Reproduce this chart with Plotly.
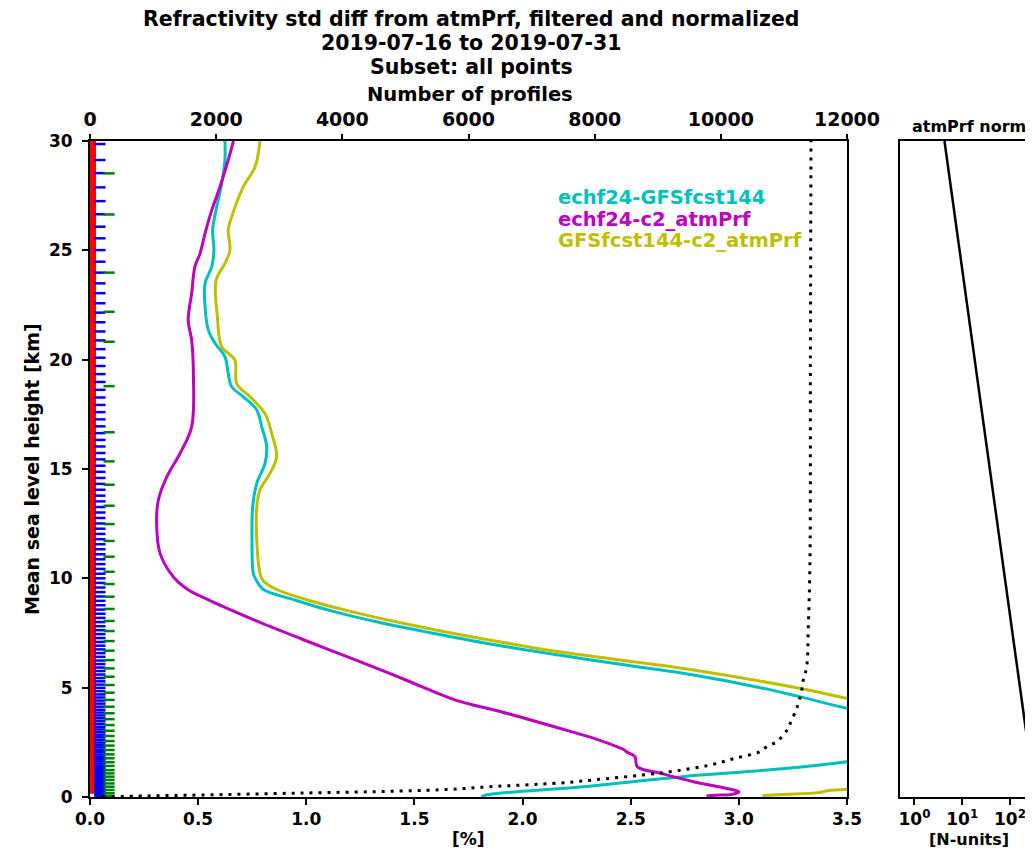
import plotly.graph_objects as go

# ---------------- data ----------------
# echf24-GFSfcst144 (cyan): height [km] / std diff [%]
cyan_h = [0.0, 0.09, 0.47, 0.93, 1.23, 1.61, 2.2, 3.0, 3.6, 4.06, 4.59, 5.0, 5.58, 6.0, 6.49, 7.0, 7.5,
          8.0, 8.5, 9.0, 9.5, 9.9, 10.23, 11.75, 13.27, 14.34, 15.26, 16.02, 16.93, 17.70, 18.30, 18.76,
          19.37, 20.13, 20.75, 21.35, 22.42, 23.49, 24.25, 25.01, 25.93, 26.99, 28.06, 29.13, 30.0]
cyan_v = [1.81, 1.83, 2.28, 2.74, 3.13, 3.50, 3.85, 3.95, 3.75, 3.50, 3.28, 3.10, 2.79, 2.50, 2.17, 1.85, 1.58,
          1.33, 1.12, 0.95, 0.80, 0.77, 0.755, 0.749, 0.752, 0.771, 0.809, 0.817, 0.794, 0.771, 0.709, 0.655,
          0.639, 0.624, 0.578, 0.547, 0.532, 0.532, 0.563, 0.573, 0.567, 0.586, 0.609, 0.624, 0.624]

# echf24-c2_atmPrf (magenta)
mag_h = [0.05, 0.09, 0.12, 0.24, 0.40, 0.70, 1.08, 1.39, 1.84, 2.07, 2.15, 2.68, 3.06, 3.90, 4.43, 5.35,
         6.26, 7.18, 8.09, 9.0, 9.5, 10.07, 11.14, 12.51, 13.58, 14.64, 15.71, 16.93, 19.37, 20.90, 21.81, 23.03,
         24.25, 24.86, 25.78, 26.84, 27.91, 29.13, 30.0]
mag_v = [2.85, 2.91, 2.97, 3.00, 2.94, 2.79, 2.64, 2.53, 2.52, 2.48, 2.47, 2.33, 2.20, 1.90, 1.69, 1.46,
         1.23, 0.99, 0.76, 0.55, 0.45, 0.385, 0.324, 0.308, 0.316, 0.355, 0.416, 0.470, 0.478, 0.470, 0.454, 0.470,
         0.485, 0.509, 0.532, 0.563, 0.601, 0.639, 0.663]

# GFSfcst144-c2_atmPrf (olive)
olive_h = [0.07, 0.12, 0.20, 0.29, 0.35, 1.0, 2.0, 3.0, 4.0, 4.51, 4.97, 5.81, 6.64, 7.0, 7.5, 8.0, 8.5,
           9.0, 9.5, 9.9, 10.23, 11.75, 13.27, 14.04, 14.80, 15.56, 16.63, 17.54, 18.30, 18.92, 19.98, 20.59,
           21.96, 23.64, 24.40, 25.01, 25.93, 26.53, 27.91, 28.82, 30.0]
olive_v = [3.11, 3.20, 3.37, 3.41, 3.50, 3.9, 4.1, 4.0, 3.75, 3.50, 3.28, 2.79, 2.17, 1.95, 1.67, 1.42,
           1.20, 1.01, 0.86, 0.80, 0.786, 0.771, 0.771, 0.786, 0.832, 0.863, 0.840, 0.809, 0.740, 0.678, 0.670,
           0.609, 0.589, 0.583, 0.624, 0.647, 0.639, 0.655, 0.709, 0.763, 0.786]

# number of profiles (dotted, top axis)
prof_h = [0.0, 0.05, 0.09, 0.18, 0.27, 0.35, 0.47, 0.64, 0.78, 1.01, 1.20, 1.46, 1.77, 2.07, 2.30, 2.53, 3.06,
          3.37, 4.13, 4.89, 5.35, 5.96, 7.79, 10.8, 20.0, 30.0]
prof_n = [200, 900, 1744, 3329, 4914, 5707, 6341, 7450, 7978, 8771, 9300, 9828, 10225, 10621, 10727, 10886,
          11050, 11100, 11212, 11282, 11307, 11361, 11387, 11413, 11420, 11429]

# small-value level markers near zero
red_h = [0.15, 30.0]
red_v = [0.014, 0.014]
blue_h = [29.86, 29.13, 28.53, 27.88, 27.25, 26.65, 26.08, 25.55, 25.01, 24.48, 23.98, 23.49, 23.04, 22.58,
          22.15, 21.71, 21.29, 20.88, 20.48, 20.09, 19.71, 19.34, 18.98, 18.62, 18.27, 17.93, 17.60, 17.27,
          16.95, 16.64, 16.33, 16.03, 15.73, 15.44, 15.15, 14.87, 14.59, 14.32, 14.05, 13.78, 13.52, 13.26,
          13.01, 12.76, 12.51, 12.27, 12.03, 11.79, 11.56, 11.33, 11.10, 10.87, 10.65, 10.43, 10.21, 10.00,
          9.79, 9.58, 9.37, 9.17, 8.97, 8.77, 8.57, 8.38, 8.19, 8.00, 7.81, 7.63, 7.45, 7.27, 7.09, 6.92,
          6.75, 6.58, 6.41, 6.24, 6.08, 5.92, 5.76, 5.60, 5.44, 5.29, 5.14, 4.99, 4.84, 4.69, 4.55, 4.41,
          4.27, 4.13, 3.99, 3.86, 3.73, 3.60, 3.47, 3.34, 3.21, 3.09, 2.97, 2.85, 2.73, 2.61, 2.49, 2.38,
          2.27, 2.16, 2.05, 1.94, 1.83, 1.73, 1.63, 1.53, 1.43, 1.33, 1.23, 1.14, 1.05, 0.96, 0.87, 0.78,
          0.69, 0.61, 0.53, 0.45, 0.37, 0.29, 0.22, 0.15, 0.08, 0.02]
blue_value = 0.046
green_h = [28.52, 26.64, 23.98, 22.19, 20.82, 18.79, 16.68, 15.35, 14.28, 13.32, 12.48, 11.71, 10.99, 10.30,
           9.74, 9.16, 8.60, 8.05, 7.59, 7.13, 6.69, 6.26, 5.88, 5.50, 5.12, 4.77, 4.44, 4.13, 3.83, 3.56,
           3.29, 3.03, 2.79, 2.56, 2.35, 2.15, 1.95, 1.77, 1.59, 1.42, 1.23, 1.08, 0.93, 0.78, 0.62, 0.47,
           0.32, 0.17, 0.05]
green_value = 0.088

# atmPrf norm (right panel)
norm_h = [0, 5, 10, 15, 20, 25, 30]
norm_v = [337, 162, 78.5, 37.9, 18.3, 8.8, 4.25]

x_ticks = [0.0, 0.5, 1.0, 1.5, 2.0, 2.5, 3.0, 3.5]
top_ticks = [0, 2000, 4000, 6000, 8000, 10000, 12000]
y_ticks = [0, 5, 10, 15, 20, 25, 30]
norm_ticks = [1, 10, 100]

legend_names = ["echf24-GFSfcst144", "echf24-c2_atmPrf", "GFSfcst144-c2_atmPrf"]

# ---------------- styling ----------------
OFF = 8                     # default page body margin
W, H = 1033 - OFF, 857 - 2 * OFF
FONT = "DejaVu Sans"
C_CYAN = "#00bfbf"
C_MAG = "#bf00bf"
C_OLIVE = "#bfbf00"

def px_x(p):
    return (p - OFF) / W

def px_y(p):
    return 1 - (p - OFF) / H

main_x0, main_x1 = 90, 847
main_y_top, main_y_bot = 141, 797
right_x0 = 899.5

fig = go.Figure()

fig.add_trace(go.Scatter(x=red_v, y=red_h, mode="lines", line=dict(color="#ff0000", width=6),
                         showlegend=False, hoverinfo="skip"))
fig.add_trace(go.Scatter(x=[blue_value] * len(blue_h), y=blue_h, mode="markers",
                         marker=dict(symbol="line-ew", size=8, line=dict(color="#0000ff", width=2.5)),
                         showlegend=False, hoverinfo="skip"))
fig.add_trace(go.Scatter(x=[green_value] * len(green_h), y=green_h, mode="markers",
                         marker=dict(symbol="line-ew", size=8, line=dict(color="#008000", width=2.5)),
                         showlegend=False, hoverinfo="skip"))

fig.add_trace(go.Scatter(x=cyan_v, y=cyan_h, mode="lines", line=dict(color=C_CYAN, width=3),
                         name=legend_names[0], showlegend=False, line_shape="spline"))
fig.add_trace(go.Scatter(x=mag_v, y=mag_h, mode="lines", line=dict(color=C_MAG, width=3),
                         name=legend_names[1], showlegend=False, line_shape="spline"))
fig.add_trace(go.Scatter(x=olive_v, y=olive_h, mode="lines", line=dict(color=C_OLIVE, width=3),
                         name=legend_names[2], showlegend=False, line_shape="spline"))

fig.add_trace(go.Scatter(x=prof_n, y=prof_h, xaxis="x2", yaxis="y", mode="lines",
                         line=dict(color="black", width=3, dash="3px,6px"), showlegend=False,
                         line_shape="spline"))

fig.add_trace(go.Scatter(x=norm_v, y=norm_h, xaxis="x3", yaxis="y2", mode="lines",
                         line=dict(color="black", width=2.5), showlegend=False))

def tf(size):
    return dict(family=FONT, size=size, color="black", weight="bold")

common = dict(showgrid=False, zeroline=False, ticks="outside", ticklen=6, tickwidth=2,
              tickcolor="black", automargin=False)

fig.update_layout(
    width=W, height=H,
    margin=dict(l=0, r=0, t=0, b=0),
    paper_bgcolor="white", plot_bgcolor="white",
    font=dict(family=FONT, color="black"),
    xaxis=dict(domain=[px_x(main_x0), px_x(main_x1)], range=[0, 3.5], tickvals=x_ticks,
               ticktext=[f"{v:.1f}" for v in x_ticks],
               showline=True, linecolor="black", linewidth=2, mirror=True,
               tickfont=tf(17), anchor="y", **common),
    xaxis2=dict(range=[0, 12000], overlaying="x", side="top", anchor="y", tickvals=top_ticks,
                ticktext=[str(v) for v in top_ticks], showline=False,
                tickfont=tf(19), **common),
    yaxis=dict(domain=[px_y(main_y_bot), px_y(main_y_top)], range=[0, 30], tickvals=y_ticks,
               showline=True, linecolor="black", linewidth=2, mirror=True,
               tickfont=tf(17), anchor="x", ticklabelstandoff=6, **common),
    xaxis3=dict(domain=[px_x(right_x0), 1.0], type="log", range=[-0.314, 2.483],
                tickvals=norm_ticks,
                ticktext=["10<sup>0</sup>", "10<sup>1</sup>", "10<sup>2</sup>"],
                showline=True, linecolor="black", linewidth=2, mirror=True,
                tickfont=tf(17), anchor="y2", **common),
    yaxis2=dict(domain=[px_y(main_y_bot), px_y(main_y_top)], range=[0, 30], anchor="x3",
                showgrid=False, zeroline=False, showline=True, linecolor="black", linewidth=2, mirror=False,
                showticklabels=False, ticks="", automargin=False),
)

def ann(text, x, y, size=16, color="black", xanchor="center", textangle=0):
    fig.add_annotation(text=text, x=px_x(x), y=px_y(y), xref="paper", yref="paper",
                       showarrow=False, xanchor=xanchor, yanchor="middle", textangle=textangle,
                       font=dict(family=FONT, size=size, color=color, weight="bold"))

ann("Refractivity std diff from atmPrf, filtered and normalized", 471, 19, size=20.5)
ann("2019-07-16 to 2019-07-31", 471, 43, size=20.5)
ann("Subset: all points", 471, 67, size=20.5)
ann("Number of profiles", 470, 95, size=19.5)
ann("[%]", 468, 839, size=17)
ann("Mean sea level height [km]", 32, 469, size=19, textangle=-90)
ann("atmPrf norm", 969, 127, size=16)
ann("[N-units]", 969, 839, size=16)

ann(legend_names[0], 556, 198, size=19.5, color=C_CYAN, xanchor="left")
ann(legend_names[1], 556, 220, size=19.5, color=C_MAG, xanchor="left")
ann(legend_names[2], 556, 241, size=19.5, color=C_OLIVE, xanchor="left")

fig.write_html("out.html")
